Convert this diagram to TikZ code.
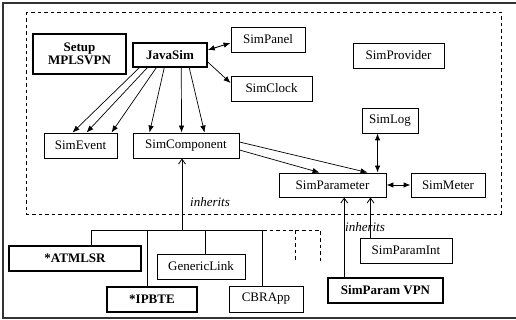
\documentclass[tikz,border=0pt]{standalone}
\usepackage{fontspec}
\setmainfont{Liberation Serif}
\usetikzlibrary{arrows.meta,calc}
\tikzset{
  box/.style={draw, line width=0.9pt, inner sep=0pt, minimum height=25pt, font=\fontsize{13}{14}\selectfont},
  bbox/.style={box, line width=1.5pt, font=\fontsize{13}{14}\selectfont\bfseries},
  arr/.style={line width=0.7pt, -{Latex[length=7pt,width=5.5pt]}},
  darr/.style={line width=0.9pt, {Latex[length=7pt,width=5.5pt]}-{Latex[length=7pt,width=5.5pt]}},
  inh/.style={line width=0.8pt, -{Straight Barb[length=5pt,width=7pt]}},
  tree/.style={line width=0.8pt},
  dashbox/.style={line width=0.9pt, dash pattern=on 3.5pt off 3pt},
  lbl/.style={font=\fontsize{13}{14}\selectfont\itshape, inner sep=0pt}
}
\begin{document}
\begin{tikzpicture}[x=1pt,y=-1pt]
\useasboundingbox (0,0) rectangle (516,320);
% outer frame (open on the right)
\draw[line width=1.2pt, black!80] (516,3) -- (3,3) -- (3,318) -- (516,318);
% dashed package box
\draw[dashbox] (26,12) rectangle (501,214);

% nodes
\node[bbox, minimum width=93pt, minimum height=40pt, align=center] (setup) at (79.5,54) {Setup\\[-1pt]MPLSVPN};
\node[bbox, minimum width=74pt, minimum height=24pt] (java) at (170,55) {JavaSim};
\node[box, minimum width=74pt] (panel) at (268,39.5) {SimPanel};
\node[box, minimum width=81pt] (clock) at (271.5,88.5) {SimClock};
\node[box, minimum width=91pt] (prov) at (398.5,55.5) {SimProvider};
\node[box, minimum width=56pt] (log) at (390,120.5) {SimLog};
\node[box, minimum width=73pt] (event) at (80.5,145.5) {SimEvent};
\node[box, minimum width=106pt] (comp) at (186,145.5) {SimComponent};
\node[box, minimum width=107pt, minimum height=24pt] (param) at (332.5,185) {SimParameter};
\node[box, minimum width=74pt, minimum height=24pt] (meter) at (448,185) {SimMeter};
\node[box, minimum width=92pt] (pint) at (406,250.5) {SimParamInt};
\node[bbox, minimum width=115pt] (pvpn) at (385.5,290.5) {SimParam VPN};
\node[bbox, minimum width=132pt] (atm) at (75,258.5) {*ATMLSR};
\node[box, minimum width=88pt] (gen) at (201,266.5) {GenericLink};
\node[bbox, minimum width=90pt] (ipbte) at (152,299.5) {*IPBTE};
\node[box, minimum width=74pt, minimum height=26pt] (cbr) at (266,299) {CBRApp};

% JavaSim -> SimEvent
\draw[arr] ([xshift=7pt]java.south west) -- ([xshift=29pt]event.north west);
\draw[arr] ([xshift=15pt]java.south west) -- ([xshift=43pt]event.north west);
\draw[arr] ([xshift=24pt]java.south west) -- ([xshift=68pt]event.north west);
% JavaSim -> SimComponent
\draw[arr] ([xshift=32pt]java.south west) -- ([xshift=17pt]comp.north west);
\draw[arr] ([xshift=49pt]java.south west) -- ([xshift=49pt]comp.north west);
\draw[arr] ([xshift=57pt]java.south west) -- ([xshift=72pt]comp.north west);
% JavaSim <-> SimPanel, JavaSim -> SimClock
\draw[darr] ([yshift=5pt]java.east) -- ([yshift=-3.5pt]panel.west);
\draw[arr] ([yshift=-7pt]java.east) -- ([yshift=5.5pt]clock.west);
% SimComponent -> SimParameter
\draw[arr] ([yshift=3.5pt]comp.east) -- ([xshift=89pt]param.north west);
\draw[arr] ([yshift=-4.5pt]comp.east) -- ([xshift=41pt]param.north west);
% SimLog <-> SimParameter
\draw[darr] ([xshift=16pt]log.south west) -- ([xshift=99pt]param.north west);
% SimParameter <-> SimMeter
\draw[darr] (param.east) -- (meter.west);

% inheritance tree to SimComponent
\coordinate (tl) at (92,230);
\coordinate (tr) at (263,230);
\coordinate (tc) at (182,230);
\coordinate (ctop) at ([xshift=49pt]comp.south west);
\draw[tree] (tl) -- (tr);
\draw[inh] (tc) -- (tc |- ctop);
\coordinate (a1) at ([xshift=83pt]atm.north west);
\draw[tree] (a1) -- (a1 |- tl);
\coordinate (i1) at ([xshift=41pt]ipbte.north west);
\draw[tree] (i1) -- (i1 |- tl);
\coordinate (g1) at ([xshift=49pt]gen.north west);
\draw[tree] (g1) -- (g1 |- tl);
\coordinate (c1) at ([xshift=34pt]cbr.north west);
\draw[tree] (c1) -- (c1 |- tl);
% dashed continuation
\coordinate (d1) at (320,230);
\coordinate (d2) at (295,230);
\draw[dashbox, line width=0.8pt] (tr) -- (d1) -- (320,262);
\draw[dashbox, line width=0.8pt] (d2) -- (295,262);
\node[lbl] (inh1) at (210,202) {inherits};

% inheritance to SimParameter
\coordinate (v1) at ([xshift=17pt]pvpn.north west);
\draw[inh] (v1) -- (v1 |- param.south);
\coordinate (p1) at ([xshift=11pt]pint.north west);
\draw[inh] (p1) -- (p1 |- param.south);
\node[lbl] (inh2) at (365,227) {inherits};
\end{tikzpicture}
\end{document}
